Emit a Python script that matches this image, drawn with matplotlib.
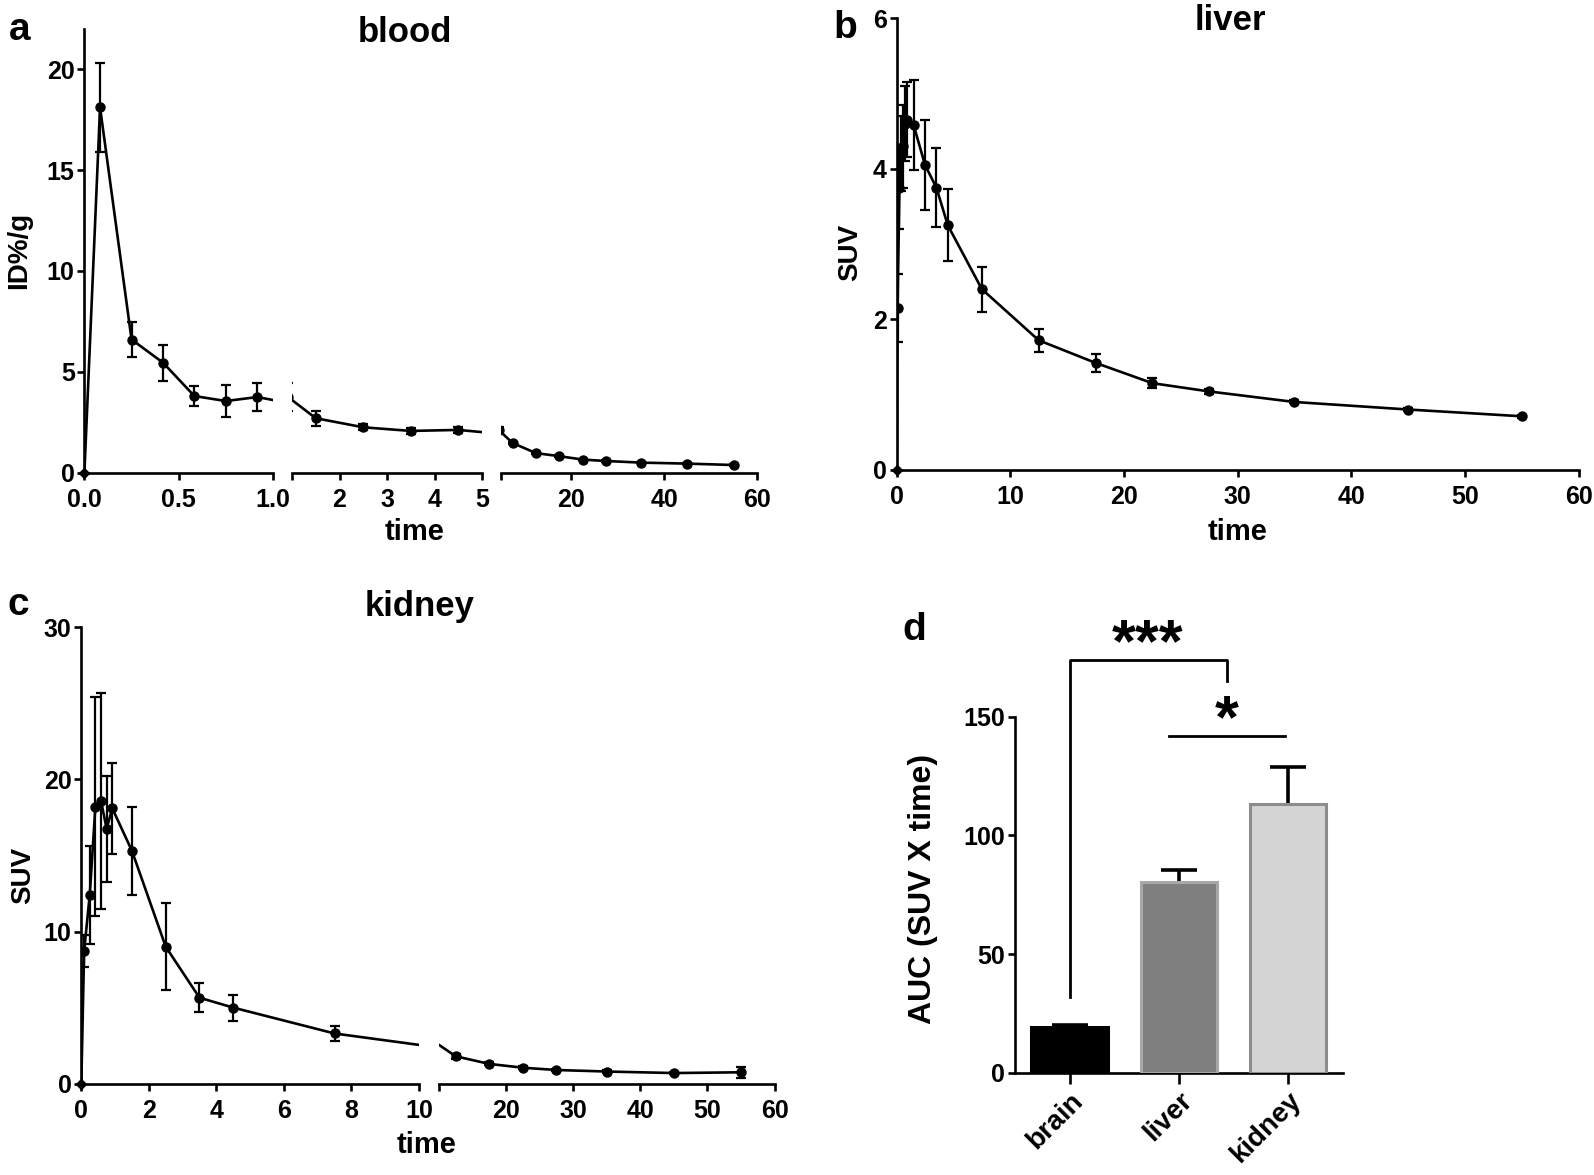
import matplotlib
matplotlib.use("Agg")
import matplotlib.pyplot as plt
import numpy as np

plt.rcParams['font.family'] = ['Liberation Sans', 'DejaVu Sans']
plt.rcParams['font.weight'] = 'bold'

# ---------------- data ----------------
time_min = [0, 0.083, 0.25, 0.417, 0.583, 0.75, 0.917, 1.5, 2.5, 3.5, 4.5,
            7.5, 12.5, 17.5, 22.5, 27.5, 35, 45, 55]

blood_mean = [0, 18.1, 6.6, 5.45, 3.8, 3.55, 3.75, 2.7, 2.25, 2.07, 2.12,
              1.47, 0.97, 0.82, 0.65, 0.58, 0.5, 0.45, 0.38]
blood_sem = [0, 2.2, 0.85, 0.9, 0.5, 0.8, 0.7, 0.38, 0.15, 0.13, 0.14,
             0.06, 0.05, 0.04, 0.04, 0.03, 0.03, 0.03, 0.03]

liver_mean = [0, 2.15, 3.75, 4.2, 4.3, 4.6, 4.65, 4.58, 4.05, 3.75, 3.25,
              2.4, 1.72, 1.42, 1.15, 1.04, 0.9, 0.8, 0.71]
liver_sem = [0, 0.45, 0.55, 0.5, 0.55, 0.5, 0.5, 0.6, 0.6, 0.52, 0.48,
             0.3, 0.15, 0.12, 0.07, 0.03, 0.02, 0.02, 0.02]

kidney_mean = [0, 8.7, 12.4, 18.2, 18.6, 16.75, 18.1, 15.3, 9.0, 5.65, 5.0,
               3.3, 1.8, 1.3, 1.05, 0.9, 0.8, 0.7, 0.75]
kidney_sem = [0, 1.05, 3.2, 7.2, 7.1, 3.5, 3.0, 2.9, 2.85, 0.95, 0.85,
              0.5, 0.15, 0.1, 0.1, 0.08, 0.08, 0.08, 0.35]

organs = ['brain', 'liver', 'kidney']
auc_mean = [19.4, 80.5, 113.2]
auc_sem = [0.8, 4.8, 15.5]
bar_colors = ['#000000', '#7f7f7f', '#d4d4d4']
bar_edges = ['#000000', '#a8a8a8', '#8c8c8c']

# ---------------- figure ----------------
W, H = 1594, 1175
fig = plt.figure(figsize=(W / 100, H / 100), dpi=100)

def rect(l, t, r, b):
    return [l / W, 1 - b / H, (r - l) / W, (b - t) / H]

SPW = 1.9
TICKFS = 18

def style_axis(ax, left=True):
    for s in ['top', 'right']:
        ax.spines[s].set_visible(False)
    ax.spines['left'].set_visible(left)
    for s in ['left', 'bottom']:
        ax.spines[s].set_linewidth(SPW)
    ax.tick_params(axis='both', direction='out', length=5, width=SPW,
                   labelsize=TICKFS, pad=2)
    ax.tick_params(axis='x', pad=6)
    if not left:
        ax.tick_params(axis='y', left=False, labelleft=False)
    ax.patch.set_alpha(0)

def draw_series(ax, t, y, e, first_seg):
    ax.plot(t, y, color='black', lw=1.9, zorder=3)
    ax.errorbar(t[1:], y[1:], yerr=e[1:], fmt='o', color='black', ms=6.5,
                ecolor='black', elinewidth=1.6, capsize=3.6, capthick=1.6,
                zorder=4)
    if first_seg:
        ax.plot(t[:1], y[:1], 'D', color='black', ms=5.5, clip_on=False, zorder=5)

def broken_panel(rects, xlims, xticks, xlabels, t, y, e, ylim, yticks):
    axes = []
    for i, (r, xl, xt, xlb) in enumerate(zip(rects, xlims, xticks, xlabels)):
        ax = fig.add_axes(rect(*r))
        draw_series(ax, t, y, e, i == 0)
        ax.set_xlim(xl)
        ax.set_ylim(ylim)
        ax.set_xticks(xt)
        ax.set_xticklabels(xlb)
        ax.set_yticks(yticks)
        style_axis(ax, left=(i == 0))
        axes.append(ax)
    return axes

# ---- panel a: blood ----
y0a, y22a = 472.7, 472.7 - 22 * 20.18
broken_panel(
    [(84.4, y22a, 273, y0a), (292, y22a, 482, y0a), (501, y22a, 757.4, y0a)],
    [(0, 1), (1, 5), (5, 60)],
    [[0, 0.5, 1.0], [1, 2, 3, 4, 5], [5, 20, 40, 60]],
    [['0.0', '0.5', '1.0'], ['', '2', '3', '4', '5'], ['', '20', '40', '60']],
    time_min, blood_mean, blood_sem, (0, 22), [0, 5, 10, 15, 20])

# ---- panel b: liver ----
axb = fig.add_axes(rect(896.6, 18.3, 1578.7, 469.7))
draw_series(axb, time_min, liver_mean, liver_sem, True)
axb.set_xlim(0, 60)
axb.set_ylim(0, 6)
axb.set_xticks([0, 10, 20, 30, 40, 50, 60])
axb.set_yticks([0, 2, 4, 6])
style_axis(axb)

# ---- panel c: kidney ----
broken_panel(
    [(81.3, 627.2, 419, 1083.7), (439, 627.2, 774.6, 1083.7)],
    [(0, 10), (10, 60)],
    [[0, 2, 4, 6, 8, 10], [10, 20, 30, 40, 50, 60]],
    [['0', '2', '4', '6', '8', '10'], ['', '20', '30', '40', '50', '60']],
    time_min, kidney_mean, kidney_sem, (0, 30), [0, 10, 20, 30])

# ---- panel d: AUC bars ----
axd = fig.add_axes(rect(1015, 716.7, 1342.7, 1072.7))
xpos = np.arange(len(organs))
axd.bar(xpos, auc_mean, width=0.7, color=bar_colors, edgecolor=bar_edges,
        linewidth=2.2, zorder=3)
eb = axd.errorbar(xpos, auc_mean, yerr=[np.zeros(len(organs)), auc_sem],
                  fmt='none', ecolor='black', elinewidth=2.6, capsize=13,
                  capthick=2.6, zorder=2)
eb[1][0].set_visible(False)
axd.set_xlim(-0.5, 2.5)
axd.set_ylim(0, 150)
axd.set_yticks([0, 50, 100, 150])
axd.set_xticks(xpos)
style_axis(axd)
axd.set_xticklabels(organs, rotation=45, ha='right', rotation_mode='anchor',
                    fontsize=20)
axd.tick_params(axis='x', length=8, pad=3)
axd.tick_params(axis='y', labelsize=18)

# significance brackets
brk_x = [0, 0, 1.44, 1.44]
brk_y = [32, 174, 174, 165]
axd.plot(brk_x, brk_y, color='black', lw=2.0, clip_on=False)
axd.text(0.71, 168, '***', ha='center', va='bottom', fontsize=44,
         clip_on=False)
axd.plot([0.91, 1.97], [142, 142], color='black', lw=2.0, clip_on=False)
axd.text(1.44, 136, '*', ha='center', va='bottom', fontsize=44, clip_on=False)

# ---------------- texts ----------------
def ftext(x, y, s, **kw):
    fig.text(x / W, 1 - y / H, s, ha='center', va='center', fontweight='bold', **kw)

ftext(20, 30, 'a', fontsize=28)
ftext(845, 28, 'b', fontsize=28)
ftext(18, 605, 'c', fontsize=28)
ftext(914, 630, 'd', fontsize=28)

ftext(405, 33, 'blood', fontsize=25)
ftext(1230, 20, 'liver', fontsize=25)
ftext(420, 607, 'kidney', fontsize=25)

ftext(415, 532, 'time', fontsize=21)
ftext(1238, 532, 'time', fontsize=21)
ftext(427, 1145, 'time', fontsize=21)

ftext(19, 250, 'ID%/g', fontsize=20, rotation=90)
ftext(850, 252, 'SUV', fontsize=20, rotation=90)
ftext(23, 875, 'SUV', fontsize=20, rotation=90)
ftext(923, 889, 'AUC (SUV X time)', fontsize=23, rotation=90)

fig.savefig('out.png', dpi=100)
